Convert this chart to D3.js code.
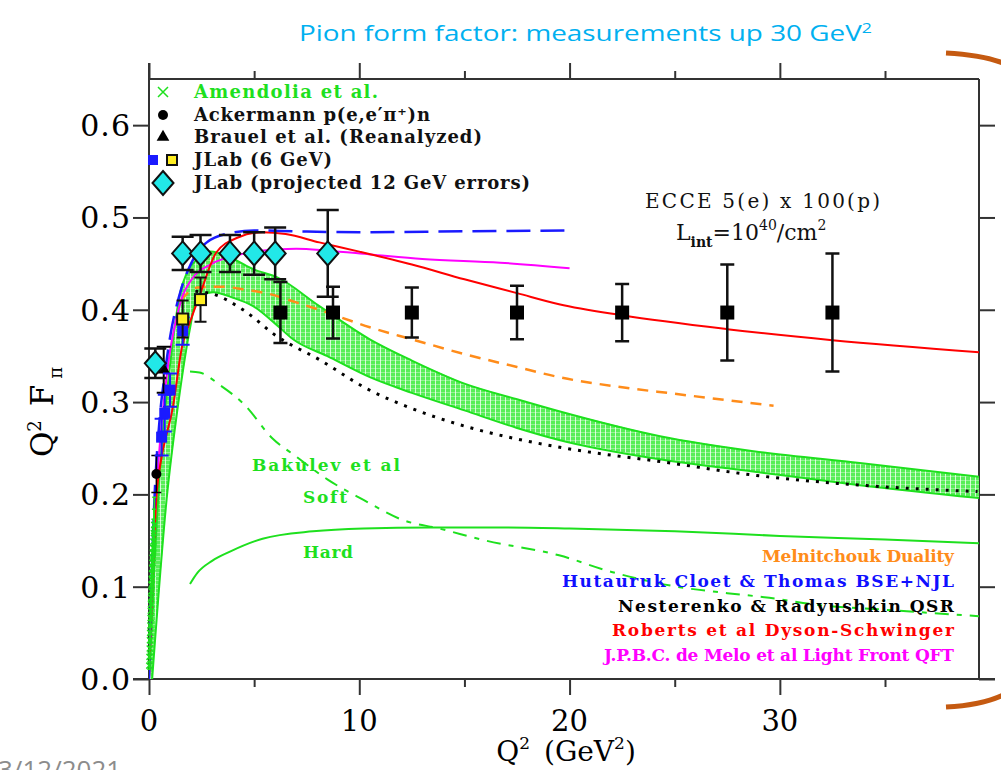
<!DOCTYPE html>
<html>
<head>
<meta charset="utf-8">
<script src="https://cdn.jsdelivr.net/npm/d3@7"></script>
<style>
    body { margin: 0; background: #fff; }
    svg { display: block; }
</style>
</head>
<body>
<div class="chart-wrapper"></div>
<script>
// ---- data ----
// ECCE projected points (black squares)
var ecceQ2 = [6.25, 8.75, 12.5, 17.5, 22.5, 27.5, 32.5];
var ecceVal = [0.397, 0.397, 0.397, 0.397, 0.397, 0.397, 0.397];
var ecceErr = [0.033, 0.028, 0.027, 0.029, 0.031, 0.052, 0.064];

// JLab projected 12 GeV (cyan diamonds)
var jlab12Q2 = [0.3, 1.6, 2.45, 3.85, 5.0, 6.0, 8.5];
var jlab12Val = [0.342, 0.461, 0.461, 0.461, 0.461, 0.461, 0.461];
var jlab12Err = [0.016, 0.018, 0.02, 0.02, 0.023, 0.028, 0.047];

// JLab 6 GeV
var jlab6LoQ2 = [0.60, 0.75, 1.00, 1.60];
var jlab6LoVal = [0.262, 0.288, 0.313, 0.377];
var jlab6LoErr = [0.02, 0.02, 0.018, 0.015];
var jlab6HiQ2 = [1.60, 2.45];
var jlab6HiVal = [0.390, 0.411];
var jlab6HiErr = [0.02, 0.024];

// Ackermann, Brauel
var ackQ2 = [0.35], ackVal = [0.222], ackErr = [0.02];
var brauelQ2 = [0.7], brauelVal = [0.335], brauelErr = [0.025];

// Amendolia (low Q2)
var amendQ2 = [0.015, 0.025, 0.035, 0.045, 0.055, 0.065, 0.075, 0.085, 0.095, 0.105, 0.115,
    0.125, 0.135, 0.145, 0.155, 0.165, 0.175, 0.185, 0.195, 0.21, 0.23, 0.25];
var amendVal = [0.0145, 0.024, 0.033, 0.042, 0.050, 0.058, 0.066, 0.074, 0.081, 0.088, 0.095,
    0.102, 0.108, 0.114, 0.120, 0.126, 0.131, 0.137, 0.142, 0.149, 0.158, 0.167];
var amendErr = [0.004, 0.005, 0.006, 0.007, 0.008, 0.009, 0.010, 0.011, 0.012, 0.013, 0.014,
    0.015, 0.016, 0.017, 0.018, 0.019, 0.020, 0.021, 0.022, 0.024, 0.026, 0.03];

// theory curves
var hutQ2 = [0, 0.1, 0.25, 0.5, 0.75, 1.0, 1.5, 2.0, 2.75, 3.85, 5, 7, 10, 15, 20];
var hutVal = [0, 0.09, 0.19, 0.28, 0.33, 0.37, 0.42, 0.45, 0.473, 0.483, 0.486, 0.485, 0.484, 0.485, 0.486];

var meloQ2 = [0, 0.25, 0.5, 0.75, 1.0, 1.25, 1.6, 2, 3, 4, 5, 6, 7, 8.5, 10.5, 13, 16.7, 20];
var meloVal = [0, 0.16, 0.25, 0.31, 0.355, 0.385, 0.415, 0.432, 0.45, 0.458, 0.463, 0.465, 0.466,
    0.464, 0.46, 0.455, 0.451, 0.445];

var dseQ2 = [0, 0.38, 0.52, 1.14, 1.57, 2, 2.4, 3.2, 4.2, 5.4, 6.5, 8.1, 10, 12.5, 15, 17.5, 19.5,
    22.5, 27.5, 32.5, 39.5];
var dseVal = [0, 0.205, 0.23, 0.295, 0.36, 0.39, 0.415, 0.462, 0.478, 0.484, 0.482, 0.473, 0.463,
    0.449, 0.433, 0.418, 0.406, 0.394, 0.379, 0.367, 0.354];

var dualQ2 = [1.5, 2.3, 3.5, 4.5, 5.75, 7, 8.1, 10.5, 12.5, 15, 17.5, 19.5, 22.5, 25, 27.5, 29.7];
var dualVal = [0.41, 0.424, 0.425, 0.422, 0.417, 0.408, 0.40, 0.381, 0.368, 0.352, 0.338, 0.327,
    0.316, 0.309, 0.302, 0.296];

var qsrQ2 = [2.2, 3.05, 4.47, 6.1, 8.1, 10.4, 12.5, 15, 17.5, 19.8, 24.8, 28.7, 33.8, 39.4];
var qsrVal = [0.42, 0.417, 0.40, 0.371, 0.346, 0.314, 0.293, 0.274, 0.26, 0.25, 0.234, 0.221, 0.21, 0.203];

// Bakulev et al band
var bandHiQ2 = [0.0, 0.5, 1.0, 1.5, 1.8, 2.3, 2.9, 4.0, 4.95, 6.1, 8.1, 10.5, 12.5, 15, 17.5, 19.5,
    24.3, 29, 33.8, 39.47];
var bandHiVal = [0.0, 0.22, 0.34, 0.42, 0.44, 0.455, 0.463, 0.455, 0.444, 0.435, 0.404, 0.368, 0.345,
    0.32, 0.303, 0.29, 0.263, 0.246, 0.234, 0.219];
var bandLoQ2 = [0.15, 0.84, 1.4, 1.95, 2.3, 3.05, 4.0, 4.95, 6.0, 6.85, 8.46, 10.5, 12.5, 15, 17.5,
    19.5, 24.3, 29, 33.8, 39.47];
var bandLoVal = [0.0, 0.195, 0.30, 0.38, 0.415, 0.419, 0.413, 0.404, 0.385, 0.368, 0.35, 0.327, 0.31,
    0.291, 0.272, 0.259, 0.238, 0.224, 0.21, 0.196];

var softQ2 = [1.95, 2.4, 3.4, 4.5, 5.9, 7, 8.5, 10.2, 12.1, 13.8, 16, 19.5, 22, 25.1, 27.5, 29.5, 31.9, 35, 39.47];
var softVal = [0.333, 0.332, 0.318, 0.298, 0.26, 0.241, 0.216, 0.194, 0.172, 0.163, 0.15, 0.134, 0.116,
    0.1, 0.093, 0.088, 0.08, 0.075, 0.068];

var hardQ2 = [1.95, 2.3, 3, 3.85, 5.4, 7.8, 10.2, 13.4, 17, 20, 25, 30, 35, 39.47];
var hardVal = [0.103, 0.115, 0.128, 0.138, 0.152, 0.16, 0.163, 0.164, 0.164, 0.163, 0.16, 0.155, 0.151, 0.147];

// ticks and labels
var xMajor = [0, 10, 20, 30];
var xMinor = [5, 15, 25, 35];
var yMajor = [0, 0.1, 0.2, 0.3, 0.4, 0.5, 0.6];
var legendLabels = ["Amendolia et al.", "Ackermann p(e,e\u2032\u03c0\u207a)n", "Brauel et al. (Reanalyzed)",
    "JLab (6 GeV)", "JLab (projected 12 GeV errors)"];
var theoryLabels = ["Melnitchouk Duality", "Hutauruk Cloet & Thomas BSE+NJL", "Nesterenko & Radyushkin QSR",
    "Roberts et al Dyson-Schwinger", "J.P.B.C. de Melo et al Light Front QFT"];
var theoryColors = ["#ff8c1a", "#1010ff", "#000000", "#ff0000", "#ff00ff"];

// ---- layout ----
var W = 1001, H = 770;
var pLeft = 149, pRight = 979, pTop = 79, pBottom = 679;
var serif = "'DejaVu Serif', 'Liberation Serif', serif";
var green = "#1ee01e";

var x = d3.scaleLinear().domain([0, 39.47]).range([pLeft, pRight]);
var y = d3.scaleLinear().domain([0, 0.65]).range([pBottom, pTop]);

var svg = d3.select(".chart-wrapper").append("svg")
    .attr("width", W)
    .attr("height", H);

var defs = svg.append("defs");
defs.append("clipPath").attr("id", "plotclip")
    .append("rect").attr("x", pLeft).attr("y", pTop).attr("width", pRight - pLeft).attr("height", pBottom - pTop);
var pat = defs.append("pattern").attr("id", "hatch")
    .attr("patternUnits", "userSpaceOnUse").attr("width", 5).attr("height", 4);
pat.append("rect").attr("width", 5).attr("height", 4).attr("fill", "#58ee58");
pat.append("rect").attr("x", 0).attr("width", 1).attr("height", 4).attr("fill", "#fff").attr("opacity", 0.75);
pat.append("rect").attr("y", 0).attr("width", 5).attr("height", 1).attr("fill", "#fff").attr("opacity", 0.35);

// title
var title = svg.append("text")
    .attr("x", 299).attr("y", 41)
    .attr("font-family", "'Open Sans', 'Noto Sans', sans-serif")
    .attr("font-size", 22)
    .attr("fill", "#00b0f0")
    .attr("textLength", 573).attr("lengthAdjust", "spacingAndGlyphs");
title.append("tspan").text("Pion form factor: measurements up 30 GeV");
title.append("tspan").attr("dy", -8).attr("font-size", 14).text("2");

// date at bottom-left, cut off by the edge
svg.append("text")
    .attr("x", -2).attr("y", 779)
    .attr("font-family", "'Open Sans', sans-serif")
    .attr("font-size", 26)
    .attr("fill", "#8c8c8c")
    .text("3/12/2021");

// orange brackets of the slide
svg.append("path").attr("d", "M946,53 Q982,55 1003,63")
    .attr("fill", "none").attr("stroke", "#c55a11").attr("stroke-width", 5);
svg.append("path").attr("d", "M946,707 Q982,705 1003,695")
    .attr("fill", "none").attr("stroke", "#c55a11").attr("stroke-width", 5);

// ---- axes ----
function tickAxis(axis, tv, size, tx, ty) {
    var g = svg.append("g")
        .attr("transform", "translate(" + tx + "," + ty + ")")
        .call(axis.tickValues(tv).tickSize(size).tickSizeOuter(0).tickFormat(""));
    g.select(".domain").remove();
    g.selectAll("line").attr("stroke", "#333").attr("stroke-width", 2);
    return g;
}
tickAxis(d3.axisBottom(x), xMajor, 16, 0, pBottom);
tickAxis(d3.axisBottom(x), xMinor, 8, 0, pBottom);
tickAxis(d3.axisTop(x), xMajor, 16, 0, pTop);
tickAxis(d3.axisTop(x), xMinor, 8, 0, pTop);
tickAxis(d3.axisLeft(y), yMajor, 16, pLeft, 0);
tickAxis(d3.axisRight(y), yMajor, 16, pRight, 0);

var frame = svg.append("g").attr("stroke", "#333").attr("stroke-width", 2);
frame.append("line").attr("x1", pLeft).attr("x2", pLeft).attr("y1", pTop - 16).attr("y2", pBottom);
frame.append("line").attr("x1", pRight).attr("x2", pRight).attr("y1", pTop).attr("y2", pBottom);
frame.append("line").attr("x1", pLeft).attr("x2", pRight).attr("y1", pTop).attr("y2", pTop);
frame.append("line").attr("x1", pLeft - 16).attr("x2", pRight + 16).attr("y1", pBottom).attr("y2", pBottom);

svg.selectAll(".xlab").data(xMajor).enter().append("text")
    .attr("class", "xlab")
    .attr("x", function (d) { return x(d); })
    .attr("y", 731)
    .attr("text-anchor", "middle")
    .attr("font-family", serif).attr("font-size", 29)
    .text(function (d) { return d; });

svg.selectAll(".ylab").data(yMajor).enter().append("text")
    .attr("class", "ylab")
    .attr("x", 131)
    .attr("y", function (d) { return y(d) + 11; })
    .attr("text-anchor", "end")
    .attr("font-family", serif).attr("font-size", 30)
    .attr("letter-spacing", 1)
    .text(function (d) { return d3.format(".1f")(d); });

var xt = svg.append("text").attr("x", 566).attr("y", 761).attr("text-anchor", "middle")
    .attr("font-family", serif).attr("font-size", 28);
xt.append("tspan").text("Q");
xt.append("tspan").attr("dy", -12).attr("font-size", 17).text("2");
xt.append("tspan").attr("dy", 12).attr("dx", 14).text("(GeV");
xt.append("tspan").attr("dy", -12).attr("font-size", 17).text("2");
xt.append("tspan").attr("dy", 12).text(")");

var yt = svg.append("text").attr("transform", "translate(53,412) rotate(-90)").attr("text-anchor", "middle")
    .attr("font-family", serif).attr("font-size", 31);
yt.append("tspan").text("Q");
yt.append("tspan").attr("dy", -12).attr("font-size", 18).text("2");
yt.append("tspan").attr("dy", 12).attr("dx", 14).text("F");
yt.append("tspan").attr("dy", 9).attr("dx", 6).attr("font-size", 18).text("\u03c0");

// ---- theory curves ----
var plot = svg.append("g").attr("clip-path", "url(#plotclip)");

function pts(qs, vs) {
    return qs.map(function (q, i) { return [x(q), y(vs[i])]; });
}
var line = d3.line().curve(d3.curveMonotoneX);

// Bakulev band
var bandPoly = pts(bandHiQ2, bandHiVal).concat(pts(bandLoQ2, bandLoVal).reverse());
plot.append("path").attr("d", d3.line()(bandPoly) + "Z").attr("fill", "url(#hatch)");
plot.append("path").attr("d", line(pts(bandHiQ2, bandHiVal)))
    .attr("fill", "none").attr("stroke", green).attr("stroke-width", 2);
plot.append("path").attr("d", line(pts(bandLoQ2, bandLoVal)))
    .attr("fill", "none").attr("stroke", green).attr("stroke-width", 2);

function curve(qs, vs, color, w, dash) {
    plot.append("path").attr("d", line(pts(qs, vs)))
        .attr("fill", "none").attr("stroke", color).attr("stroke-width", w)
        .attr("stroke-dasharray", dash || null);
}
curve(softQ2, softVal, green, 2, "14,8,5,8");
curve(hardQ2, hardVal, green, 2);
curve(qsrQ2, qsrVal, "#000", 3, "3,7");
curve(dualQ2, dualVal, "#ff8c1a", 2.5, "11,8");
curve(meloQ2, meloVal, "#ff00ff", 2);
curve(dseQ2, dseVal, "#ff0000", 2);
curve(hutQ2, hutVal, "#1a1aff", 2.5, "24,10");

// ---- data points ----
var pg = svg.append("g");

function errorBars(qs, vs, es, cap, color, w) {
    pg.selectAll(null).data(qs).enter().append("path")
        .attr("d", function (d, i) {
            var cx = x(d), y1 = y(vs[i] + es[i]), y2 = y(vs[i] - es[i]);
            return "M" + (cx - cap) + "," + y1 + "H" + (cx + cap) +
                "M" + cx + "," + y1 + "V" + y2 +
                "M" + (cx - cap) + "," + y2 + "H" + (cx + cap);
        })
        .attr("fill", "none").attr("stroke", color).attr("stroke-width", w);
}
function squares(qs, vs, s, fill, stroke) {
    pg.selectAll(null).data(qs).enter().append("rect")
        .attr("x", function (d) { return x(d) - s / 2; })
        .attr("y", function (d, i) { return y(vs[i]) - s / 2; })
        .attr("width", s).attr("height", s)
        .attr("fill", fill)
        .attr("stroke", stroke || "none").attr("stroke-width", 2);
}
function diamondPath(cx, cy) {
    return "M" + cx + "," + (cy - 12) + "L" + (cx + 10.5) + "," + cy + "L" + cx + "," + (cy + 12) +
        "L" + (cx - 10.5) + "," + cy + "Z";
}
function crossPath(cx, cy, r) {
    return "M" + (cx - r) + "," + (cy - r) + "L" + (cx + r) + "," + (cy + r) +
        "M" + (cx - r) + "," + (cy + r) + "L" + (cx + r) + "," + (cy - r);
}

// Amendolia
errorBars(amendQ2, amendVal, amendErr, 2, green, 1.5);
pg.selectAll(null).data(amendQ2).enter().append("path")
    .attr("d", function (d, i) { return crossPath(x(d), y(amendVal[i]), 3); })
    .attr("stroke", green).attr("stroke-width", 1.5);

// Ackermann
errorBars(ackQ2, ackVal, ackErr, 5, "#000", 1.5);
pg.selectAll(null).data(ackQ2).enter().append("circle")
    .attr("cx", function (d) { return x(d); })
    .attr("cy", function (d, i) { return y(ackVal[i]); })
    .attr("r", 5).attr("fill", "#000");

// Brauel
errorBars(brauelQ2, brauelVal, brauelErr, 7, "#000", 2);
pg.selectAll(null).data(brauelQ2).enter().append("path")
    .attr("d", function () { return d3.symbol().type(d3.symbolTriangle).size(70)(); })
    .attr("transform", function (d, i) { return "translate(" + x(d) + "," + y(brauelVal[i]) + ")"; })
    .attr("fill", "#000");

// JLab 6 GeV
errorBars(jlab6LoQ2, jlab6LoVal, jlab6LoErr, 7, "#1a1aff", 2);
squares(jlab6LoQ2, jlab6LoVal, 11, "#1a1aff");
errorBars(jlab6HiQ2, jlab6HiVal, jlab6HiErr, 6, "#111", 2);
squares(jlab6HiQ2, jlab6HiVal, 11, "#ffee22", "#111");

// JLab projected 12 GeV
errorBars(jlab12Q2, jlab12Val, jlab12Err, 11, "#111", 2.5);
pg.selectAll(null).data(jlab12Q2).enter().append("path")
    .attr("d", function (d, i) { return diamondPath(x(d), y(jlab12Val[i])); })
    .attr("fill", "#22e8e8").attr("stroke", "#111").attr("stroke-width", 2);

// ECCE
errorBars(ecceQ2, ecceVal, ecceErr, 7, "#111", 2.5);
squares(ecceQ2, ecceVal, 14, "#000");

// ---- legends and labels ----
var legendRowY = [92, 115, 137, 160, 183];
var legendWidths = [184, 236, 288, 138, 336];
var lg = svg.append("g");
lg.append("path").attr("d", crossPath(163, legendRowY[0], 5)).attr("stroke", green).attr("stroke-width", 1.5);
lg.append("circle").attr("cx", 163).attr("cy", legendRowY[1]).attr("r", 5).attr("fill", "#000");
lg.append("path").attr("d", d3.symbol().type(d3.symbolTriangle).size(70)())
    .attr("transform", "translate(163," + legendRowY[2] + ")").attr("fill", "#000");
lg.append("rect").attr("x", 148).attr("y", legendRowY[3] - 5).attr("width", 10).attr("height", 10).attr("fill", "#1a1aff");
lg.append("rect").attr("x", 167).attr("y", legendRowY[3] - 5).attr("width", 10).attr("height", 10)
    .attr("fill", "#ffee22").attr("stroke", "#111").attr("stroke-width", 2);
lg.append("path").attr("d", diamondPath(163, legendRowY[4])).attr("fill", "#22e8e8")
    .attr("stroke", "#111").attr("stroke-width", 2);

lg.selectAll(".leg").data(legendLabels).enter().append("text")
    .attr("class", "leg")
    .attr("x", 194)
    .attr("y", function (d, i) { return legendRowY[i] + 6; })
    .attr("font-family", serif).attr("font-size", 18).attr("font-weight", "bold")
    .attr("fill", function (d, i) { return i === 0 ? green : "#111"; })
    .attr("textLength", function (d, i) { return legendWidths[i]; })
    .attr("lengthAdjust", "spacing")
    .text(function (d) { return d; });

var theoryRowY = [562, 587, 612, 636, 661];
var theoryStart = [762, 562, 618, 612, 604];
svg.selectAll(".theo").data(theoryLabels).enter().append("text")
    .attr("class", "theo")
    .attr("x", function (d, i) { return theoryStart[i]; })
    .attr("y", function (d, i) { return theoryRowY[i]; })
    .attr("font-family", serif).attr("font-size", 17).attr("font-weight", "bold")
    .attr("fill", function (d, i) { return theoryColors[i]; })
    .attr("textLength", function (d, i) { return 954 - theoryStart[i]; })
    .attr("lengthAdjust", "spacing")
    .text(function (d) { return d; });

// Bakulev labels
var bk = svg.append("g").attr("font-family", serif).attr("font-size", 17).attr("font-weight", "bold").attr("fill", green);
bk.append("text").attr("x", 252).attr("y", 471).attr("textLength", 148).attr("lengthAdjust", "spacing").text("Bakulev et al");
bk.append("text").attr("x", 303).attr("y", 503).attr("textLength", 44).attr("lengthAdjust", "spacing").text("Soft");
bk.append("text").attr("x", 303).attr("y", 558).attr("textLength", 50).attr("lengthAdjust", "spacing").text("Hard");

// ECCE label
var ec = svg.append("g").attr("font-family", serif).attr("font-size", 20).attr("fill", "#111");
ec.append("text").attr("x", 645).attr("y", 208).attr("textLength", 235).attr("lengthAdjust", "spacing")
    .text("ECCE 5(e) x 100(p)");
var li = ec.append("text").attr("x", 676).attr("y", 240).attr("font-size", 22);
li.append("tspan").text("L");
li.append("tspan").attr("dy", 7).attr("font-size", 14).attr("font-weight", "bold").text("int");
li.append("tspan").attr("dy", -7).text("=10");
li.append("tspan").attr("dy", -10).attr("font-size", 14).text("40");
li.append("tspan").attr("dy", 10).text("/cm");
li.append("tspan").attr("dy", -10).attr("font-size", 14).text("2");
</script>
</body>
</html>
